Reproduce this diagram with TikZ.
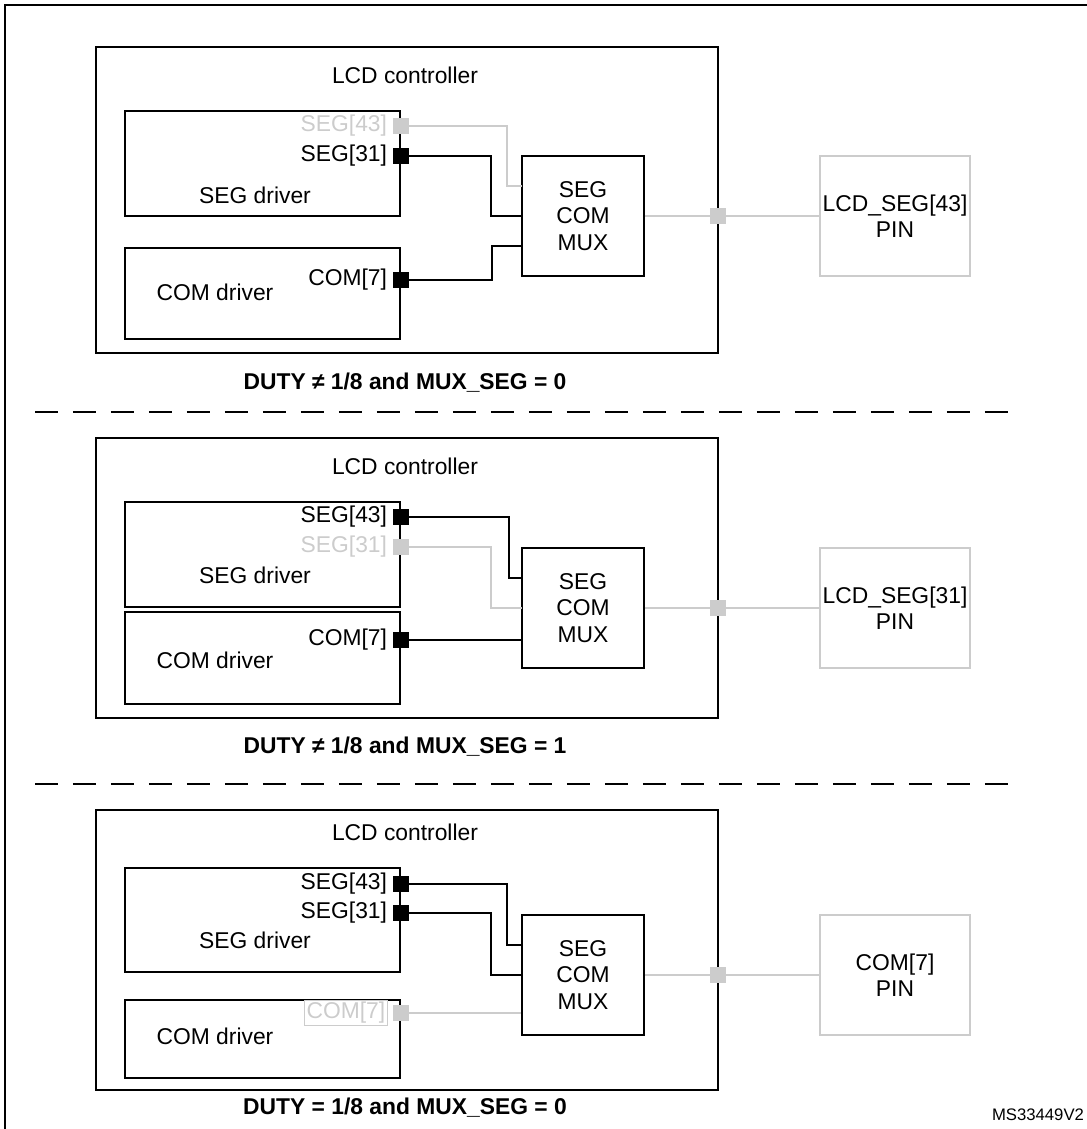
\documentclass[tikz,border=0pt]{standalone}
\usepackage{fontspec}
\setmainfont{Liberation Sans}
\usetikzlibrary{positioning}
\begin{document}
\begin{tikzpicture}[
    x=0.02cm, y=-0.02cm,
    every node/.style={align=center, font=\fontsize{13}{15}\selectfont, inner sep=0pt},
    block/.style={draw=black, line width=1pt},
    pinbox/.style={draw=black!20, line width=1pt},
    pad/.style={fill=black, minimum size=0.32cm},
    padoff/.style={fill=black!20, minimum size=0.32cm},
    wire/.style={line width=1pt},
    wireoff/.style={line width=1pt, draw=black!20},
    caption/.style={font=\fontsize{13}{15}\selectfont\bfseries},
    sep/.style={line width=1pt, dash pattern=on 0.46cm off 0.3cm}
]
\useasboundingbox (0,0) rectangle (1087,1129);
\draw[line width=1pt] (1087,5) -- (5,5) -- (5,1129);

% panel 1: DUTY != 1/8, MUX_SEG = 0
\draw[block] (96,47) rectangle (718,353);
\node at (405,75) {LCD controller};
\draw[block] (125,111) rectangle (400,216);
\node at (255,195) {SEG driver};
\draw[block] (125,248) rectangle (400,339);
\node at (215,292) {COM driver};
\node[padoff] (p1s43) at (401,126) {};
\node[pad] (p1s31) at (401,156) {};
\node[pad] (p1c7) at (401,280) {};
\node[left=3pt of p1s43, text=black!20] {SEG[43]};
\node[left=3pt of p1s31] {SEG[31]};
\node[left=3pt of p1c7] {COM[7]};
\node[block, minimum width=2.44cm, minimum height=2.4cm] (mux1) at (583,216) {SEG\\COM\\MUX};
\coordinate (m1a) at (522,186);
\coordinate (m1b) at (522,216);
\coordinate (m1c) at (522,246);
\draw[wireoff] (p1s43) -- (507,126) |- (m1a);
\draw[wire] (p1s31) -- (491,156) |- (m1b);
\draw[wire] (p1c7) -- (492,280) |- (m1c);
\node[pinbox, minimum width=3cm, minimum height=2.4cm] (pin1) at (895,216) {LCD\_SEG[43]\\PIN};
\node[padoff] (o1) at (718,216) {};
\draw[wireoff] (mux1) -- (o1) -- (pin1);
\node[caption] at (405,383) {DUTY ≠ 1/8 and MUX\_SEG = 0};
\draw[sep] (35,412) -- (1020,412);

% panel 2: DUTY != 1/8, MUX_SEG = 1
\draw[block] (96,438) rectangle (718,718);
\node at (405,466) {LCD controller};
\draw[block] (125,502) rectangle (400,607);
\node at (255,575) {SEG driver};
\draw[block] (125,612) rectangle (400,704);
\node at (215,660) {COM driver};
\node[pad] (p2s43) at (401,517) {};
\node[padoff] (p2s31) at (401,547) {};
\node[pad] (p2c7) at (401,640) {};
\node[left=3pt of p2s43] {SEG[43]};
\node[left=3pt of p2s31, text=black!20] {SEG[31]};
\node[left=3pt of p2c7] {COM[7]};
\node[block, minimum width=2.44cm, minimum height=2.4cm] (mux2) at (583,608) {SEG\\COM\\MUX};
\coordinate (m2a) at (522,578);
\coordinate (m2b) at (522,608);
\draw[wire] (p2s43) -- (509,517) |- (m2a);
\draw[wireoff] (p2s31) -- (491,547) |- (m2b);
\draw[wire] (p2c7) -- (p2c7 -| mux2.west);
\node[pinbox, minimum width=3cm, minimum height=2.4cm] (pin2) at (895,608) {LCD\_SEG[31]\\PIN};
\node[padoff] (o2) at (718,608) {};
\draw[wireoff] (mux2) -- (o2) -- (pin2);
\node[caption] at (405,747) {DUTY ≠ 1/8 and MUX\_SEG = 1};
\draw[sep] (35,784) -- (1020,784);

% panel 3: DUTY = 1/8, MUX_SEG = 0
\draw[block] (96,810) rectangle (718,1090);
\node at (405,832) {LCD controller};
\draw[block] (125,868) rectangle (400,972);
\node at (255,940) {SEG driver};
\draw[block] (125,1000) rectangle (400,1078);
\node at (215,1036) {COM driver};
\node[pad] (p3s43) at (401,884) {};
\node[pad] (p3s31) at (401,913) {};
\node[padoff] (p3c7) at (401,1013) {};
\node[left=3pt of p3s43] {SEG[43]};
\node[left=3pt of p3s31] {SEG[31]};
\node[left=3pt of p3c7, text=black!20, draw=black!20, inner sep=1pt] {COM[7]};
\node[block, minimum width=2.44cm, minimum height=2.4cm] (mux3) at (583,975) {SEG\\COM\\MUX};
\coordinate (m3a) at (522,945);
\coordinate (m3b) at (522,975);
\draw[wire] (p3s43) -- (507,884) |- (m3a);
\draw[wire] (p3s31) -- (491,913) |- (m3b);
\draw[wireoff] (p3c7) -- (p3c7 -| mux3.west);
\node[pinbox, minimum width=3cm, minimum height=2.4cm] (pin3) at (895,975) {COM[7]\\PIN};
\node[padoff] (o3) at (718,975) {};
\draw[wireoff] (mux3) -- (o3) -- (pin3);
\node[caption] at (405,1108) {DUTY = 1/8 and MUX\_SEG = 0};
\node[font=\fontsize{9.5}{11}\selectfont] at (1038,1115) {MS33449V2};
\end{tikzpicture}
\end{document}
